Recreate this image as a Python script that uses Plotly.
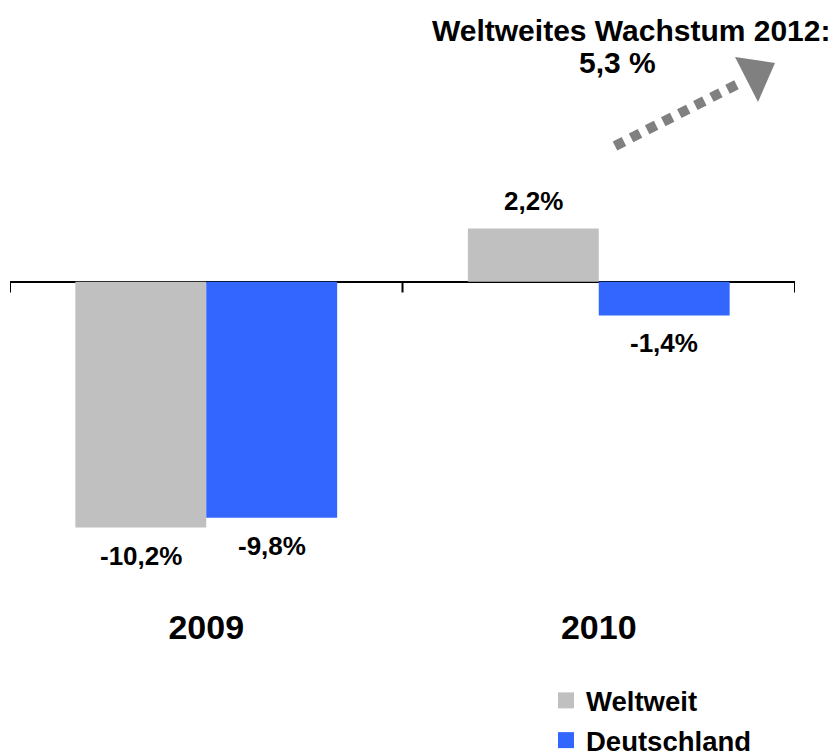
import plotly.graph_objects as go

categories = ["2009", "2010"]
weltweit = [-10.2, 2.2]
deutschland = [-9.8, -1.4]
series_names = ["Weltweit", "Deutschland"]
series_colors = ["#C0C0C0", "#3366FF"]
headline = ["Weltweites Wachstum 2012:", "5,3 %"]

FONT = "Liberation Sans, Arial, sans-serif"
W, H = 835, 755
L, R, T, B = 10, 40, 137, 160
YMIN, YMAX = -13, 6
BARGAP = 0.333

def fmt(v):
    return f"{v:.1f}".replace(".", ",") + "%"

def px(x, y):
    pw = W - L - R
    ph = H - T - B
    return (x - L) / pw, (H - B - y) / ph

fig = go.Figure()
for name, vals, col in zip(series_names, [weltweit, deutschland], series_colors):
    fig.add_trace(go.Bar(x=categories, y=vals, name=name, marker_color=col,
                         marker_line_width=0, legendgroup=name, showlegend=False))
# legend entries with larger square swatches
for name, col in zip(series_names, series_colors):
    fig.add_trace(go.Scatter(x=[None], y=[None], mode="markers", name=name,
                             legendgroup=name,
                             marker=dict(symbol="square", size=19, color=col)))

# data labels
bw = (1 - BARGAP) / 2
for si, vals in enumerate([weltweit, deutschland]):
    off = (si - 0.5) * bw
    for ci, v in enumerate(vals):
        fig.add_annotation(x=ci + off, y=v, xref="x", yref="y", text=fmt(v),
                           showarrow=False, yanchor="middle",
                           yshift=28 if v > 0 else -28,
                           font=dict(family=FONT, size=26, color="black", weight="bold"))

# axis ticks at category boundaries
for xb in [-0.5, 0.5, 1.5]:
    fig.add_shape(type="line", xref="x", yref="y", x0=xb, x1=xb, y0=0, y1=-0.45,
                  line=dict(color="black", width=2))

# headline
x1, y1 = px(631, 30)
x2, y2 = px(617, 62)
fig.add_annotation(x=x1, y=y1, xref="paper", yref="paper", text=headline[0],
                   showarrow=False, xanchor="center", yanchor="middle",
                   font=dict(family=FONT, size=30, color="black", weight="bold"))
fig.add_annotation(x=x2, y=y2, xref="paper", yref="paper", text=headline[1],
                   showarrow=False, xanchor="center", yanchor="middle",
                   font=dict(family=FONT, size=30, color="black", weight="bold"))

# dotted arrow
a0 = px(615, 146)
a1 = px(742, 82)
fig.add_shape(type="line", xref="paper", yref="paper", x0=a0[0], y0=a0[1], x1=a1[0], y1=a1[1],
              line=dict(color="#808080", width=10, dash="10px,8px"))
p1, p2, p3 = px(735, 57), px(775, 63), px(758, 102)
fig.add_shape(type="path", xref="paper", yref="paper",
              path=f"M {p1[0]} {p1[1]} L {p2[0]} {p2[1]} L {p3[0]} {p3[1]} Z",
              fillcolor="#808080", line=dict(width=0))

lx, ly = px(546, 676)
fig.update_layout(
    width=W, height=H,
    margin=dict(l=L, r=R, t=T, b=B, autoexpand=False),
    paper_bgcolor="white", plot_bgcolor="white",
    barmode="group", bargap=BARGAP, bargroupgap=0,
    showlegend=True,
    legend=dict(x=lx, y=ly, xanchor="left", yanchor="top",
                font=dict(family=FONT, size=27.5, color="black", weight="bold"),
                tracegroupgap=1, bgcolor="rgba(0,0,0,0)", itemsizing="trace"),
    xaxis=dict(range=[-0.5, 1.5], showgrid=False, showline=False, ticks="",
               tickfont=dict(family=FONT, size=34, color="black", weight="bold"),
               ticklabelstandoff=9),
    yaxis=dict(range=[YMIN, YMAX], showgrid=False, showticklabels=False,
               zeroline=True, zerolinecolor="black", zerolinewidth=2, showline=False),
)

fig.write_html("out.html", config={"displayModeBar": False},
               post_script="document.body.style.margin='0';")
